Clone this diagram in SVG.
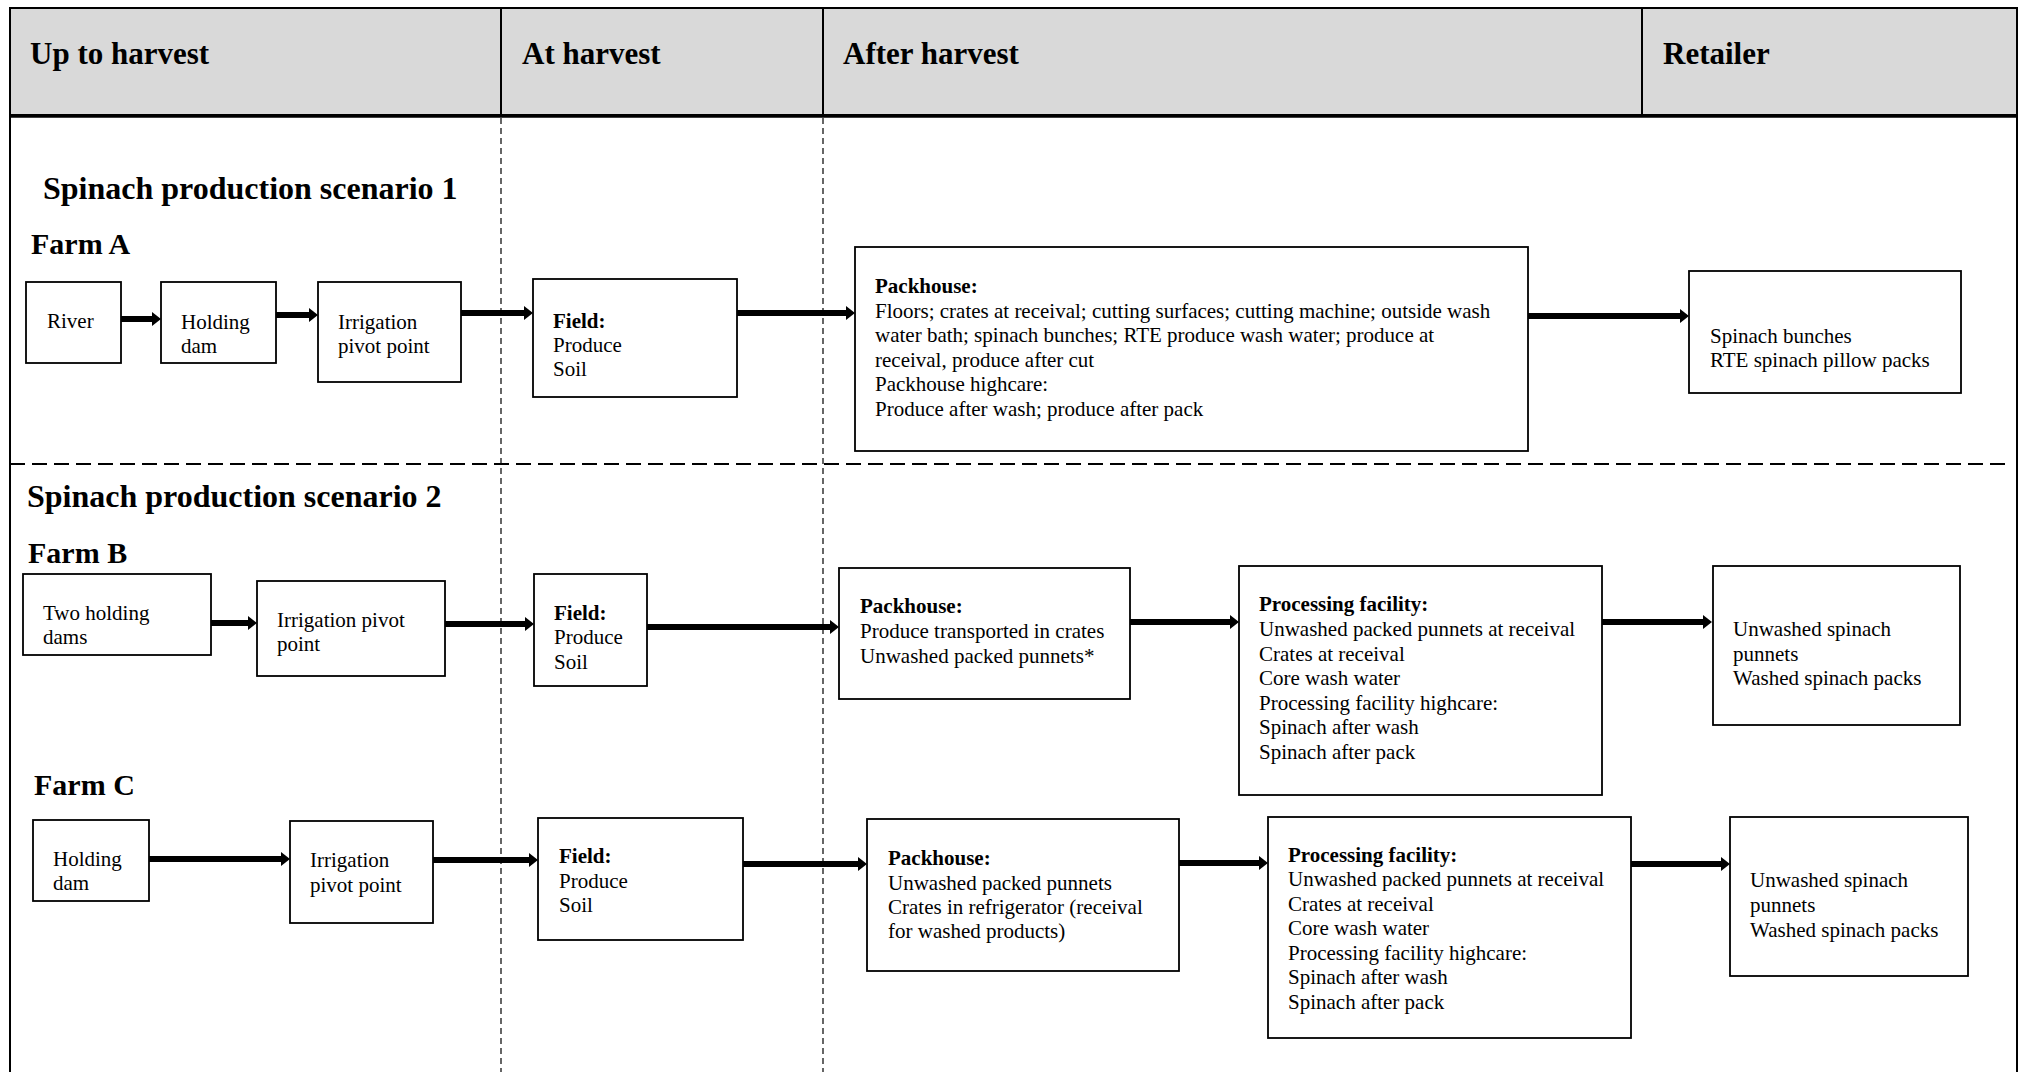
<svg xmlns="http://www.w3.org/2000/svg" width="2024" height="1072" viewBox="0 0 2024 1072">
<defs>
<style>
.t{font-family:"Liberation Serif","Times New Roman",serif;font-size:21px;fill:#000}
.b{font-weight:bold}
.h{font-family:"Liberation Serif","Times New Roman",serif;font-size:31px;font-weight:bold;fill:#000}
.s{font-family:"Liberation Serif","Times New Roman",serif;font-size:32px;font-weight:bold;fill:#000}
.f{font-family:"Liberation Serif","Times New Roman",serif;font-size:30px;font-weight:bold;fill:#000}
.box{fill:#fff;stroke:#000;stroke-width:1.8}
.arr{stroke:#000;stroke-width:6;fill:none;marker-end:url(#ah)}
.vd{stroke:#000;stroke-width:1.2;stroke-dasharray:6 4}
</style>
<marker id="ah" markerUnits="userSpaceOnUse" markerWidth="10" markerHeight="16" viewBox="0 -8 10 16" refX="0" refY="0" orient="auto">
<path d="M0,-7 L9,0 L0,7 z" fill="#000"/>
</marker>
</defs>
<rect width="2024" height="1072" fill="#fff"/>
<g id="frame">
<rect x="10" y="8" width="2007" height="107" fill="#d9d9d9" stroke="#000" stroke-width="2"/>
<line x1="501" y1="8" x2="501" y2="115" stroke="#000" stroke-width="2"/>
<line x1="823" y1="8" x2="823" y2="115" stroke="#000" stroke-width="2"/>
<line x1="1642" y1="8" x2="1642" y2="115" stroke="#000" stroke-width="2"/>
<line x1="10" y1="116" x2="2017" y2="116" stroke="#000" stroke-width="3.5"/>
<line x1="10" y1="115" x2="10" y2="1072" stroke="#000" stroke-width="2"/>
<line x1="2017" y1="115" x2="2017" y2="1072" stroke="#000" stroke-width="2"/>
<line class="vd" x1="501" y1="118" x2="501" y2="1072"/>
<line class="vd" x1="823" y1="118" x2="823" y2="1072"/>
<line x1="10" y1="464" x2="2012" y2="464" stroke="#000" stroke-width="2.2" stroke-dasharray="15 7"/>
<text class="h" x="30" y="64">Up to harvest</text>
<text class="h" x="522" y="64">At harvest</text>
<text class="h" x="843" y="64">After harvest</text>
<text class="h" x="1663" y="64">Retailer</text>
<text class="s" x="43" y="199">Spinach production scenario 1</text>
<text class="f" x="31" y="254">Farm A</text>
<text class="s" x="27" y="507">Spinach production scenario 2</text>
<text class="f" x="28" y="563">Farm B</text>
<text class="f" x="34" y="795">Farm C</text>
</g>
<g id="connectors">
<line class="arr" x1="121" y1="319" x2="152" y2="319"/>
<line class="arr" x1="276" y1="315" x2="309" y2="315"/>
<line class="arr" x1="461" y1="313" x2="524" y2="313"/>
<line class="arr" x1="737" y1="313" x2="846" y2="313"/>
<line class="arr" x1="1528" y1="316" x2="1680" y2="316"/>
<line class="arr" x1="211" y1="623" x2="248" y2="623"/>
<line class="arr" x1="445" y1="624" x2="525" y2="624"/>
<line class="arr" x1="647" y1="627" x2="830" y2="627"/>
<line class="arr" x1="1130" y1="622" x2="1230" y2="622"/>
<line class="arr" x1="1602" y1="622" x2="1703" y2="622"/>
<line class="arr" x1="149" y1="859" x2="281" y2="859"/>
<line class="arr" x1="433" y1="860" x2="529" y2="860"/>
<line class="arr" x1="743" y1="864" x2="858" y2="864"/>
<line class="arr" x1="1179" y1="863" x2="1259" y2="863"/>
<line class="arr" x1="1631" y1="864" x2="1721" y2="864"/>
</g>
<g id="riverA"><rect class="box" x="26" y="282" width="95" height="81"/><text class="t" x="47" y="328">River</text></g>
<g id="holdingDamA"><rect class="box" x="161" y="282" width="115" height="81"/><text class="t"><tspan x="181" y="329">Holding</tspan><tspan x="181" y="353">dam</tspan></text></g>
<g id="irrigationA"><rect class="box" x="318" y="282" width="143" height="100"/><text class="t"><tspan x="338" y="329">Irrigation</tspan><tspan x="338" y="353">pivot point</tspan></text></g>
<g id="fieldA"><rect class="box" x="533" y="279" width="204" height="118"/><text class="t"><tspan class="b" x="553" y="328">Field:</tspan><tspan x="553" y="352">Produce</tspan><tspan x="553" y="376">Soil</tspan></text></g>
<g id="packhouseA"><rect class="box" x="855" y="247" width="673" height="204"/><text class="t"><tspan class="b" x="875" y="293">Packhouse:</tspan><tspan x="875" y="317.5">Floors; crates at receival; cutting surfaces; cutting machine; outside wash</tspan><tspan x="875" y="342">water bath; spinach bunches; RTE produce wash water; produce at</tspan><tspan x="875" y="366.5">receival, produce after cut</tspan><tspan x="875" y="391">Packhouse highcare:</tspan><tspan x="875" y="415.5">Produce after wash; produce after pack</tspan></text></g>
<g id="retailA"><rect class="box" x="1689" y="271" width="272" height="122"/><text class="t"><tspan x="1710" y="343">Spinach bunches</tspan><tspan x="1710" y="367">RTE spinach pillow packs</tspan></text></g>
<g id="twoDamsB"><rect class="box" x="23" y="574" width="188" height="81"/><text class="t"><tspan x="43" y="620">Two holding</tspan><tspan x="43" y="644">dams</tspan></text></g>
<g id="irrigationB"><rect class="box" x="257" y="581" width="188" height="95"/><text class="t"><tspan x="277" y="627">Irrigation pivot</tspan><tspan x="277" y="651">point</tspan></text></g>
<g id="fieldB"><rect class="box" x="534" y="574" width="113" height="112"/><text class="t"><tspan class="b" x="554" y="620">Field:</tspan><tspan x="554" y="644">Produce</tspan><tspan x="554" y="669">Soil</tspan></text></g>
<g id="packhouseB"><rect class="box" x="839" y="568" width="291" height="131"/><text class="t"><tspan class="b" x="860" y="613">Packhouse:</tspan><tspan x="860" y="638">Produce transported in crates</tspan><tspan x="860" y="663">Unwashed packed punnets*</tspan></text></g>
<g id="processingB"><rect class="box" x="1239" y="566" width="363" height="229"/><text class="t"><tspan class="b" x="1259" y="611">Processing facility:</tspan><tspan x="1259" y="636">Unwashed packed punnets at receival</tspan><tspan x="1259" y="661">Crates at receival</tspan><tspan x="1259" y="685">Core wash water</tspan><tspan x="1259" y="710">Processing facility highcare:</tspan><tspan x="1259" y="734">Spinach after wash</tspan><tspan x="1259" y="759">Spinach after pack</tspan></text></g>
<g id="retailB"><rect class="box" x="1713" y="566" width="247" height="159"/><text class="t"><tspan x="1733" y="636">Unwashed spinach</tspan><tspan x="1733" y="661">punnets</tspan><tspan x="1733" y="685">Washed spinach packs</tspan></text></g>
<g id="holdingDamC"><rect class="box" x="33" y="820" width="116" height="81"/><text class="t"><tspan x="53" y="866">Holding</tspan><tspan x="53" y="890">dam</tspan></text></g>
<g id="irrigationC"><rect class="box" x="290" y="821" width="143" height="102"/><text class="t"><tspan x="310" y="867">Irrigation</tspan><tspan x="310" y="892">pivot point</tspan></text></g>
<g id="fieldC"><rect class="box" x="538" y="818" width="205" height="122"/><text class="t"><tspan class="b" x="559" y="863">Field:</tspan><tspan x="559" y="888">Produce</tspan><tspan x="559" y="912">Soil</tspan></text></g>
<g id="packhouseC"><rect class="box" x="867" y="819" width="312" height="152"/><text class="t"><tspan class="b" x="888" y="865">Packhouse:</tspan><tspan x="888" y="890">Unwashed packed punnets</tspan><tspan x="888" y="914">Crates in refrigerator (receival</tspan><tspan x="888" y="938">for washed products)</tspan></text></g>
<g id="processingC"><rect class="box" x="1268" y="817" width="363" height="221"/><text class="t"><tspan class="b" x="1288" y="862">Processing facility:</tspan><tspan x="1288" y="886">Unwashed packed punnets at receival</tspan><tspan x="1288" y="911">Crates at receival</tspan><tspan x="1288" y="935">Core wash water</tspan><tspan x="1288" y="960">Processing facility highcare:</tspan><tspan x="1288" y="984">Spinach after wash</tspan><tspan x="1288" y="1009">Spinach after pack</tspan></text></g>
<g id="retailC"><rect class="box" x="1730" y="817" width="238" height="159"/><text class="t"><tspan x="1750" y="887">Unwashed spinach</tspan><tspan x="1750" y="912">punnets</tspan><tspan x="1750" y="937">Washed spinach packs</tspan></text></g>
</svg>
